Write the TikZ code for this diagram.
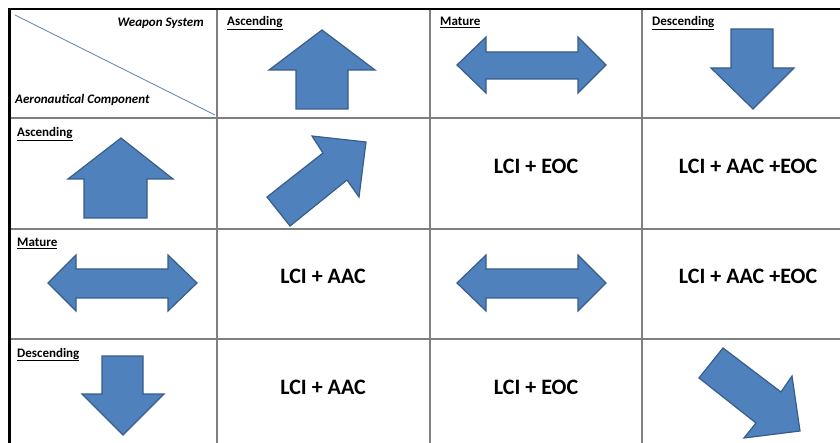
\documentclass[tikz,border=0pt]{standalone}
\usepackage{fontspec}
\setmainfont{Carlito}
\definecolor{shapefill}{HTML}{4F81BD}
\definecolor{shapeline}{HTML}{385D8A}
\definecolor{gridline}{HTML}{7F7F7F}
\definecolor{diagline}{HTML}{5B82B0}
\begin{document}
\begin{tikzpicture}[x=1pt,y=-1pt,
  arrowshape/.style={fill=shapefill,draw=shapeline,line width=1.2pt,line join=miter},
  gridrule/.style={draw=gridline,line width=1.4pt},
  framerule/.style={draw=black,line width=2.8pt},
  hdr/.style={anchor=base west,inner sep=0pt,font=\fontsize{13}{15}\selectfont\bfseries},
  cornertxt/.style={inner sep=0pt,font=\fontsize{13}{15}\selectfont\bfseries\itshape},
  big/.style={anchor=base,inner sep=0pt,font=\fontsize{22}{26}\selectfont\bfseries}]
\useasboundingbox (0,0) rectangle (840,443);
\fill[white] (0,0) rectangle (840,443);
\begin{scope}
\clip (0,0) rectangle (840,443);
% grid
\foreach \x in {217,430,642} \draw[gridrule] (\x,9) -- (\x,470);
\foreach \y in {118,229,339} \draw[gridrule] (10,\y) -- (870,\y);
\draw[framerule] (9.5,470) -- (9.5,9) -- (870,9);
% corner cell
\draw[diagline,line width=0.8pt] (15,15) -- (215,115);
\node[cornertxt,anchor=base east] (ws) at (204,26.5) {Weapon System};
\node[cornertxt,anchor=base west] (ac) at (15,104) {Aeronautical Component};
% header labels
\node[hdr] (hA) at (227,26) {\underline{Ascending}};
\node[hdr] (hM) at (440,26) {\underline{Mature}};
\node[hdr] (hD) at (652,26) {\underline{Descending}};
\node[hdr] (rA) at (17,137) {\underline{Ascending}};
\node[hdr] (rM) at (17,247) {\underline{Mature}};
\node[hdr] (rD) at (17,357) {\underline{Descending}};
% header arrows
\draw[arrowshape] (296,109) -- (296,70) -- (269,70) -- (322,30) -- (375,70) -- (348,70) -- (348,109) -- cycle;
\draw[arrowshape] (457,65) -- (486,37) -- (486,52) -- (578,52) -- (578,37) -- (606,65) -- (578,93) -- (578,79) -- (486,79) -- (486,93) -- cycle;
\draw[arrowshape] (731,29) -- (773,29) -- (773,68) -- (794,68) -- (753,109) -- (711,68) -- (731,68) -- cycle;
% row arrows
\draw[arrowshape] (84,218) -- (84,179) -- (68,179) -- (121,138) -- (173,179) -- (147,179) -- (147,218) -- cycle;
\draw[arrowshape] (48,283) -- (76,255) -- (76,269) -- (168,269) -- (168,255) -- (197,283) -- (168,311) -- (168,298) -- (76,298) -- (76,311) -- cycle;
\draw[arrowshape] (102,356) -- (143,356) -- (143,394) -- (164,394) -- (123,435) -- (82,394) -- (102,394) -- cycle;
% inner arrows
\draw[arrowshape] (267,197) -- (323,153) -- (312,136) -- (366,142) -- (359,197) -- (347,180) -- (290,226) -- cycle;
\draw[arrowshape] (457,283) -- (486,255) -- (486,269) -- (578,269) -- (578,255) -- (606,283) -- (578,311) -- (578,298) -- (486,298) -- (486,311) -- cycle;
\draw[arrowshape] (723,348) -- (781,392) -- (792,376) -- (800,431) -- (744,438) -- (756,423) -- (699,378) -- cycle;
% texts
\node[big] (c12) at (536,174) {LCI + EOC};
\node[big] (c13) at (748,174) {LCI + AAC +EOC};
\node[big] (c21) at (323,284) {LCI + AAC};
\node[big] (c23) at (748,284) {LCI + AAC +EOC};
\node[big] (c31) at (323,394) {LCI + AAC};
\node[big] (c32) at (536,394) {LCI + EOC};
\end{scope}
\end{tikzpicture}
\end{document}
